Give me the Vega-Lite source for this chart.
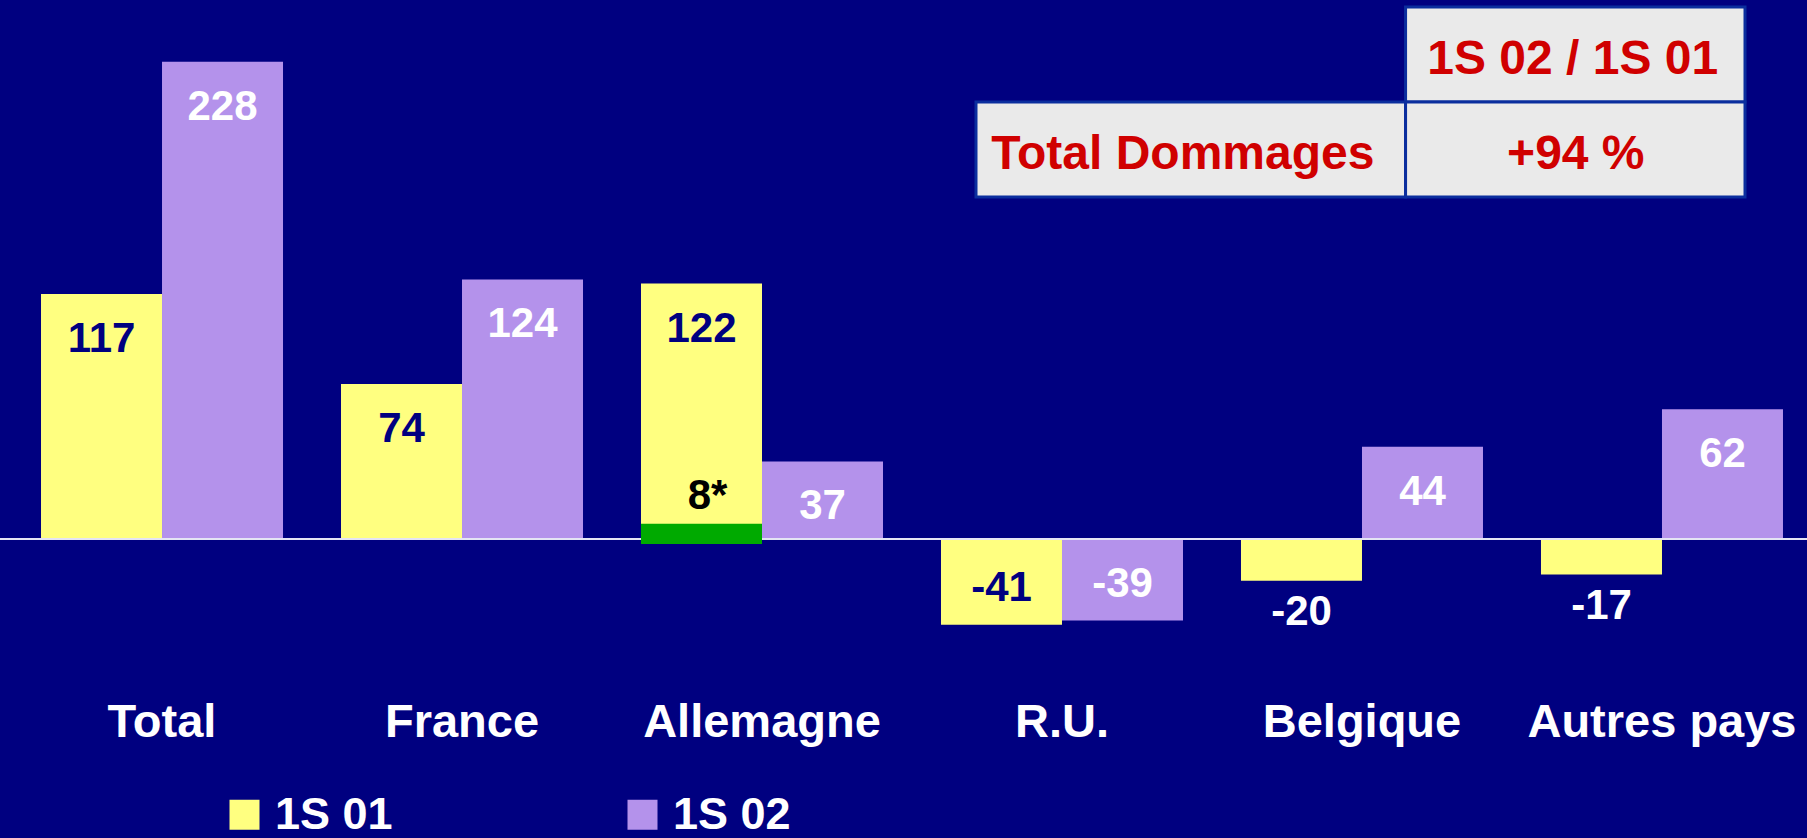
{
  "$schema": "https://vega.github.io/schema/vega-lite/v6.json",
  "width": 1807,
  "height": 838,
  "autosize": {"type": "none"},
  "padding": 0,
  "background": "#000080",
  "config": {"view": {"stroke": null}, "font": "Liberation Sans"},
  "datasets": {
    "bars": [
      {"cat": "Total", "series": "1S 01", "value": 117},
      {"cat": "Total", "series": "1S 02", "value": 228},
      {"cat": "France", "series": "1S 01", "value": 74},
      {"cat": "France", "series": "1S 02", "value": 124},
      {"cat": "Allemagne", "series": "1S 01", "value": 122},
      {"cat": "Allemagne", "series": "1S 02", "value": 37},
      {"cat": "R.U.", "series": "1S 01", "value": -41},
      {"cat": "R.U.", "series": "1S 02", "value": -39},
      {"cat": "Belgique", "series": "1S 01", "value": -20},
      {"cat": "Belgique", "series": "1S 02", "value": 44},
      {"cat": "Autres pays", "series": "1S 01", "value": -17},
      {"cat": "Autres pays", "series": "1S 02", "value": 62}
    ],
    "note": [
      {"cat": "Allemagne", "series": "1S 01", "lo": -2.4, "hi": 7.2, "label": "8*"}
    ],
    "baseline": [{"value": 0}],
    "table": [
      {"row": "head", "x0": 0.5586, "x1": 1, "xc": 0.776, "text": "1S 02 / 1S 01"},
      {"row": "body", "x0": 0, "x1": 0.5586, "xc": 0.269, "text": "Total Dommages"},
      {"row": "body", "x0": 0.5586, "x1": 1, "xc": 0.78, "text": "+94 %"}
    ]
  },
  "layer": [
    {
      "layer": [
        {
          "data": {"name": "bars"},
          "mark": {"type": "bar"},
          "encoding": {
            "x": {"field": "cat", "type": "nominal", "axis": null,
                  "scale": {"domain": ["Total", "France", "Allemagne", "R.U.", "Belgique", "Autres pays"], "range": [0, 1824], "paddingInner": 0.1933, "paddingOuter": 0.1367}},
            "xOffset": {"field": "series", "type": "nominal", "scale": {"domain": ["1S 01", "1S 02"], "paddingInner": 0, "paddingOuter": 0}},
            "y": {"field": "value", "type": "quantitative", "axis": null, "scale": {"domain": [-142.9, 257.5], "nice": false}},
            "y2": {"datum": 0},
            "color": {"field": "series", "type": "nominal",
                      "scale": {"domain": ["1S 01", "1S 02"], "range": ["#FFFF80", "#B492EB"]},
                      "legend": {"orient": "none", "legendX": 222, "legendY": 792, "direction": "horizontal", "columns": 2, "title": null,
                                 "symbolType": "square", "symbolSize": 900, "symbolStrokeWidth": 0, "symbolOpacity": 1,
                                 "labelFontSize": 45, "labelFont": "Liberation Sans", "labelFontWeight": "bold", "labelColor": "white",
                                 "labelOffset": 8, "columnPadding": 227, "padding": 0, "labelLimit": 400}}
          }
        },
        {
          "data": {"name": "baseline"},
          "mark": {"type": "rule", "color": "#E4E4F4", "strokeWidth": 2},
          "encoding": {"y": {"field": "value", "type": "quantitative"}}
        },
        {
          "data": {"name": "note"},
          "mark": {"type": "bar", "color": "#00AA00"},
          "encoding": {
            "x": {"field": "cat", "type": "nominal"},
            "xOffset": {"field": "series", "type": "nominal"},
            "y": {"field": "hi", "type": "quantitative"},
            "y2": {"field": "lo"}
          }
        },
        {
          "data": {"name": "note"},
          "mark": {"type": "text", "color": "black", "fontSize": 42, "fontWeight": "bold", "baseline": "middle", "dy": -28, "dx": 6},
          "encoding": {
            "x": {"field": "cat", "type": "nominal"},
            "xOffset": {"field": "series", "type": "nominal"},
            "y": {"field": "hi", "type": "quantitative"},
            "text": {"field": "label"}
          }
        },
        {
          "data": {"name": "bars"},
          "transform": [{"filter": "datum.value > 0"}],
          "mark": {"type": "text", "fontSize": 42, "fontWeight": "bold", "baseline": "middle", "dy": 45},
          "encoding": {
            "x": {"field": "cat", "type": "nominal"},
            "xOffset": {"field": "series", "type": "nominal"},
            "y": {"field": "value", "type": "quantitative"},
            "text": {"field": "value"},
            "color": {"condition": {"test": "datum.series === '1S 01'", "value": "#000080"}, "value": "white"}
          }
        },
        {
          "data": {"name": "bars"},
          "transform": [{"filter": "datum.value < -30"}],
          "mark": {"type": "text", "fontSize": 42, "fontWeight": "bold", "baseline": "middle", "dy": -37},
          "encoding": {
            "x": {"field": "cat", "type": "nominal"},
            "xOffset": {"field": "series", "type": "nominal"},
            "y": {"field": "value", "type": "quantitative"},
            "text": {"field": "value"},
            "color": {"condition": {"test": "datum.series === '1S 01'", "value": "#000080"}, "value": "white"}
          }
        },
        {
          "data": {"name": "bars"},
          "transform": [{"filter": "datum.value < 0 && datum.value >= -30"}],
          "mark": {"type": "text", "fontSize": 42, "fontWeight": "bold", "baseline": "middle", "dy": 31, "color": "white"},
          "encoding": {
            "x": {"field": "cat", "type": "nominal"},
            "xOffset": {"field": "series", "type": "nominal"},
            "y": {"field": "value", "type": "quantitative"},
            "text": {"field": "value"}
          }
        },
        {
          "data": {"name": "bars"},
          "transform": [{"filter": "datum.series === '1S 01'"}],
          "mark": {"type": "text", "fontSize": 47, "fontWeight": "bold", "baseline": "middle", "color": "white"},
          "encoding": {
            "x": {"field": "cat", "type": "nominal"},
            "y": {"datum": -88, "type": "quantitative"},
            "text": {"field": "cat"}
          }
        }
      ]
    },
    {
      "data": {"name": "table"},
      "layer": [
        {
          "mark": {"type": "rect", "fill": "#EAEAEA", "stroke": "#0B2E9E", "strokeWidth": 3},
          "encoding": {
            "x": {"field": "x0", "type": "quantitative", "axis": null, "scale": {"domain": [0, 1], "range": [976, 1745], "nice": false, "zero": false}},
            "x2": {"field": "x1"},
            "y": {"field": "row", "type": "nominal", "axis": null, "scale": {"domain": ["head", "body"], "range": [7, 197], "paddingInner": 0, "paddingOuter": 0}}
          }
        },
        {
          "mark": {"type": "text", "color": "#D00000", "fontSize": 48, "fontWeight": "bold", "baseline": "middle", "dy": 5},
          "encoding": {
            "x": {"field": "xc", "type": "quantitative"},
            "y": {"field": "row", "type": "nominal"},
            "text": {"field": "text"}
          }
        }
      ]
    }
  ],
  "resolve": {"scale": {"x": "independent", "y": "independent"}}
}
